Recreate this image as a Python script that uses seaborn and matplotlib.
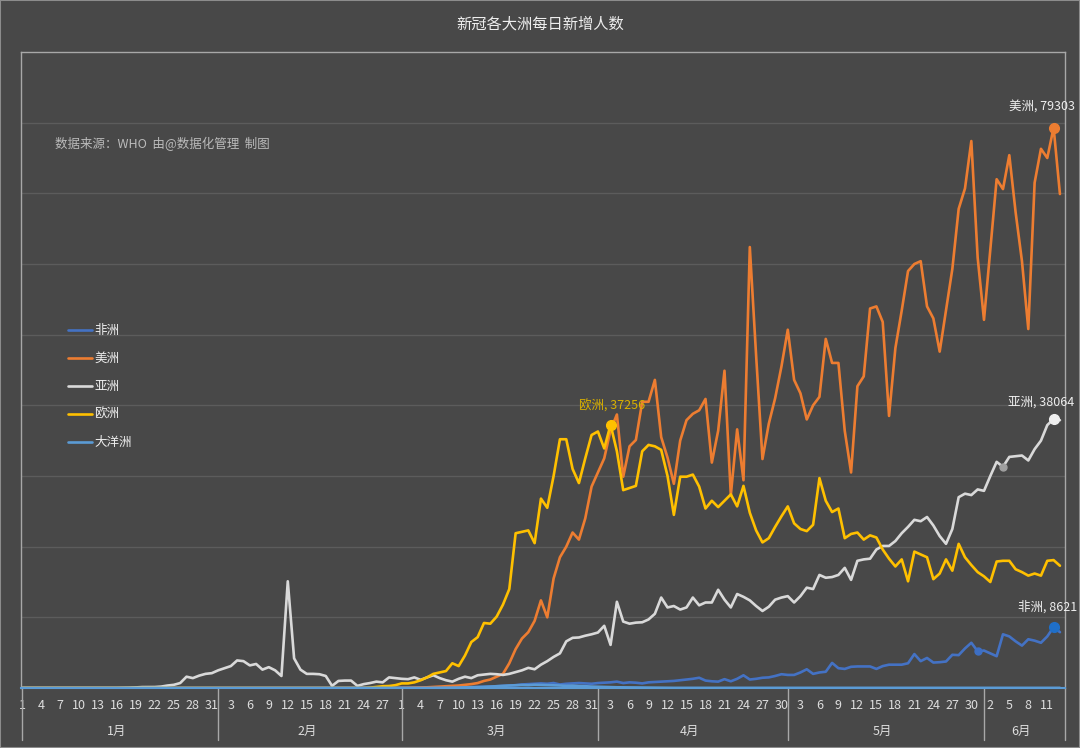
import pandas as pd
import matplotlib
matplotlib.use('Agg')
import matplotlib.pyplot as plt
import matplotlib.patches as patches
import seaborn as sns

# Daily new cases, 2020-01-01 .. 2020-06-13
inicio = '2020-01-01'
continentes = ['非洲', '美洲', '亚洲', '欧洲', '大洋洲']
cores = ['#4472c4', '#ed7d31', '#d9d9d9', '#ffc000', '#5b9bd5']
meses = ['1月', '2月', '3月', '4月', '5月', '6月']

africa = ([0] * 31 + [0] * 29 +
          [5, 5, 10, 15, 20, 30, 40, 50, 60, 80, 100, 120, 150, 180, 200, 250,
           300, 350, 400, 500, 550, 600, 650, 600, 700, 500, 600, 650, 700, 650, 600] +
          [700, 750, 800, 900, 700, 800, 750, 650, 800, 850, 900, 950, 1000, 1100, 1200,
           1300, 1450, 1050, 950, 900, 1250, 950, 1300, 1800, 1200, 1300, 1450, 1500, 1700, 1950] +
          [1850, 1850, 2200, 2650, 2000, 2200, 2300, 3550, 2800, 2700, 3000, 3050, 3050, 3050,
           2700, 3100, 3300, 3300, 3300, 3500, 4800, 3800, 4250, 3600, 3650, 3750, 4700, 4650,
           5600, 6400, 5200] +
          [5300, 4900, 4500, 7600, 7300, 6600, 6000, 6900, 6700, 6400, 7300, 8621, 7900])

america = ([0] * 31 + [0] * 29 +
           [20, 30, 50, 80, 100, 150, 200, 250, 300, 350, 450, 550, 700, 1000, 1200, 1600,
            2000, 3500, 5500, 7000, 7900, 9500, 12400, 10000, 15500, 18500, 20000, 22000,
            21000, 24000, 28500] +
           [30500, 32500, 36500, 38700, 29900, 34200, 35100, 40500, 40500, 43600, 35500, 32600,
            28900, 35000, 37900, 38800, 39300, 40900, 31900, 36400, 44900, 27300, 36600, 29400,
            62400, 47000, 32400, 37400, 41000, 45500] +
           [50700, 43600, 41700, 38000, 40000, 41200, 49400, 46000, 46000, 36400, 30500, 42700,
            44100, 53700, 54000, 51800, 38500, 48100, 53400, 59000, 60000, 60400, 54000, 52300,
            47600, 53400, 59300, 67800, 70700, 77400, 60900] +
           [52100, 62000, 72000, 70600, 75400, 67300, 60400, 50800, 71500, 76300, 75000, 79303, 69900])

asia = ([0] * 16 +
        [20, 40, 80, 130, 130, 140, 200, 350, 450, 700, 1600, 1400, 1750, 2000, 2100] +
        [2500, 2800, 3100, 3900, 3800, 3200, 3400, 2600, 2950, 2500, 1700, 15100, 4200, 2600,
         2000, 2000, 1950, 1700, 300, 1000, 1050, 1050, 300, 550, 700, 900, 800, 1500, 1400] +
        [1300, 1250, 1500, 1150, 1500, 1800, 1400, 1100, 900, 1300, 1600, 1400, 1800, 1900,
         2000, 1950, 1850, 2000, 2250, 2500, 2850, 2650, 3300, 3800, 4400, 4900, 6600, 7100,
         7150, 7400, 7600] +
        [7850, 8800, 6100, 12200, 9400, 9100, 9250, 9300, 9700, 10500, 12800, 11400, 11600,
         11100, 11400, 12800, 11700, 12100, 12100, 13900, 12500, 11400, 13300, 12900, 12400,
         11600, 10900, 11500, 12500, 12800] +
        [13000, 12100, 13000, 14200, 14000, 16000, 15600, 15700, 16000, 17000, 15300, 18000,
         18200, 18300, 19600, 20100, 20100, 20800, 21900, 22800, 23800, 23600, 24200, 23000,
         21500, 20400, 22500, 27000, 27500, 27300, 28100] +
        [27900, 30000, 32000, 31300, 32700, 32800, 32900, 32200, 33800, 35000, 37200, 38064, 37900])

europe = ([0] * 31 + [0] * 24 + [50, 150, 250, 280, 400] +
          [650, 650, 800, 1100, 1500, 2000, 2200, 2400, 3500, 3100, 4600, 6500, 7200, 9200,
           9100, 10100, 11800, 14000, 21900, 22100, 22300, 20500, 26800, 25500, 30000, 35200,
           35200, 31000, 29000, 32500, 35800] +
          [36300, 33900, 37256, 33500, 28000, 28300, 28600, 33500, 34400, 34200, 33700, 30000,
           24500, 29900, 29900, 30200, 28500, 25400, 26500, 25600, 26500, 27400, 25700, 28600,
           24800, 22300, 20600, 21200, 22800, 24300] +
          [25700, 23300, 22500, 22200, 23100, 29700, 26500, 24900, 25400, 21200, 21800, 22000,
           21000, 21600, 21300, 19600, 18300, 17200, 18200, 15100, 19300, 18900, 18500, 15400,
           16200, 18200, 16600, 20400, 18500, 17400, 16400] +
          [15800, 15000, 17900, 18000, 18000, 16800, 16400, 15900, 16200, 15900, 18000, 18100, 17300])

oceania = ([0] * 31 + [0] * 29 +
           [2, 5, 5, 10, 15, 20, 30, 40, 50, 60, 80, 100, 120, 150, 200, 250, 300, 350, 380,
            420, 400, 450, 430, 400, 380, 350, 300, 330, 280, 250, 200] +
           [180, 150, 120, 100, 90, 80, 60, 50, 40, 35, 30, 25, 20, 20, 20, 15, 15, 15, 10, 10,
            10, 10, 10, 10, 10, 10, 10, 10, 10, 10] +
           [15] * 31 + [20] * 13)

series = [africa, america, asia, europe, oceania]
datas = pd.date_range(inicio, periods=len(asia))

frames = []
for nome, vals in zip(continentes, series):
    frames.append(pd.DataFrame({'idx': range(len(vals)), 'casos': vals, 'continente': nome}))
df = pd.concat(frames, ignore_index=True)

# estilo
bg = '#484848'
sns.set_theme(style='dark', rc={'axes.facecolor': bg, 'figure.facecolor': bg})
plt.rcParams['font.family'] = ['Noto Sans CJK SC', 'DejaVu Sans']

fig = plt.figure(figsize=(10.8, 7.48), dpi=100)
ax = fig.add_axes([21 / 1080, 1 - 688 / 748, 1044 / 1080, 636 / 748])

sns.lineplot(data=df, x='idx', y='casos', hue='continente', hue_order=continentes,
             palette=cores, linewidth=1.9, ax=ax,
             solid_joinstyle='round', solid_capstyle='round')

ax.set_xlim(-0.15, 164.8)
ax.set_ylim(0, 90000)
ax.set_yticks(range(10000, 90000, 10000))
ax.set_yticklabels([])
ax.tick_params(axis='y', length=0)
ax.grid(axis='y', color='#5c5c5c', linewidth=1)
ax.grid(axis='x', visible=False)
ax.set_xlabel('')
ax.set_ylabel('')

ticks = list(range(0, len(datas), 3))
ax.set_xticks(ticks)
ax.set_xticklabels([str(datas[i].day) for i in ticks], color='#dddddd', fontsize=9)
ax.tick_params(axis='x', length=0, pad=8)

for lado in ['left', 'right', 'top']:
    ax.spines[lado].set_color('#a8a8a8')
    ax.spines[lado].set_linewidth(1)
ax.spines['bottom'].set_color('#5b9bd5')
ax.spines['bottom'].set_linewidth(1.5)

# month row
trans = ax.get_xaxis_transform()
inicios = [i for i in range(len(datas)) if datas[i].day == 1]
limites = inicios + [164.8]
for k, mes in enumerate(meses):
    a, b = limites[k], limites[k + 1]
    fim = min(b, len(datas)) - 1
    ax.text((a + fim) / 2, -0.068, mes, transform=trans, ha='center', va='center',
            color='#dddddd', fontsize=9)
for pos in limites:
    ax.plot([pos, pos], [0, -0.082], transform=trans, color='#a8a8a8', lw=1, clip_on=False)

# max labels
rotulos = [(america, '#ed7d31', '#eeeeee', (-12, 20)),
           (asia, '#eeeeee', '#eeeeee', (-12, 17)),
           (europe, '#ffc000', '#d9b000', (1, 19)),
           (africa, '#1f6fc8', '#eeeeee', (-6, 20))]
for vals, cm, ct, off in rotulos:
    i = max(range(len(vals)), key=lambda j: vals[j])
    nome = continentes[series.index(vals)]
    ax.plot(i, vals[i], 'o', color=cm, markersize=7, zorder=5)
    ax.annotate(f'{nome}, {vals[i]}', (i, vals[i]), xytext=off, textcoords='offset pixels',
                ha='center', va='center', color=ct, fontsize=9)

ax.plot(155, asia[155], 'o', color='#a0a0a0', markersize=5, zorder=5)
ax.plot(151, africa[151], 'o', color='#3d6fc4', markersize=5, zorder=5)

handles, labels = ax.get_legend_handles_labels()
ax.legend(handles, labels, loc='upper left', bbox_to_anchor=(68 / 1080, 1 - 324 / 748),
          bbox_transform=fig.transFigure, frameon=False, labelcolor='#eeeeee', fontsize=9,
          handlelength=1.9, labelspacing=1.2, handletextpad=0.2, borderpad=0, borderaxespad=0)

fig.text(0.5, 1 - 24 / 748, '新冠各大洲每日新增人数', ha='center', va='center',
         color='#eeeeee', fontsize=11)
fig.text(55 / 1080, 1 - 144 / 748, '数据来源：WHO  由@数据化管理  制图', ha='left', va='center',
         color='#bbbbbb', fontsize=9)

fig.patches.append(patches.Rectangle((0, 0), 1, 1, transform=fig.transFigure, fill=False,
                                     edgecolor='#8c8c8c', linewidth=1.5))

fig.savefig('out.png', dpi=100, facecolor=bg)
